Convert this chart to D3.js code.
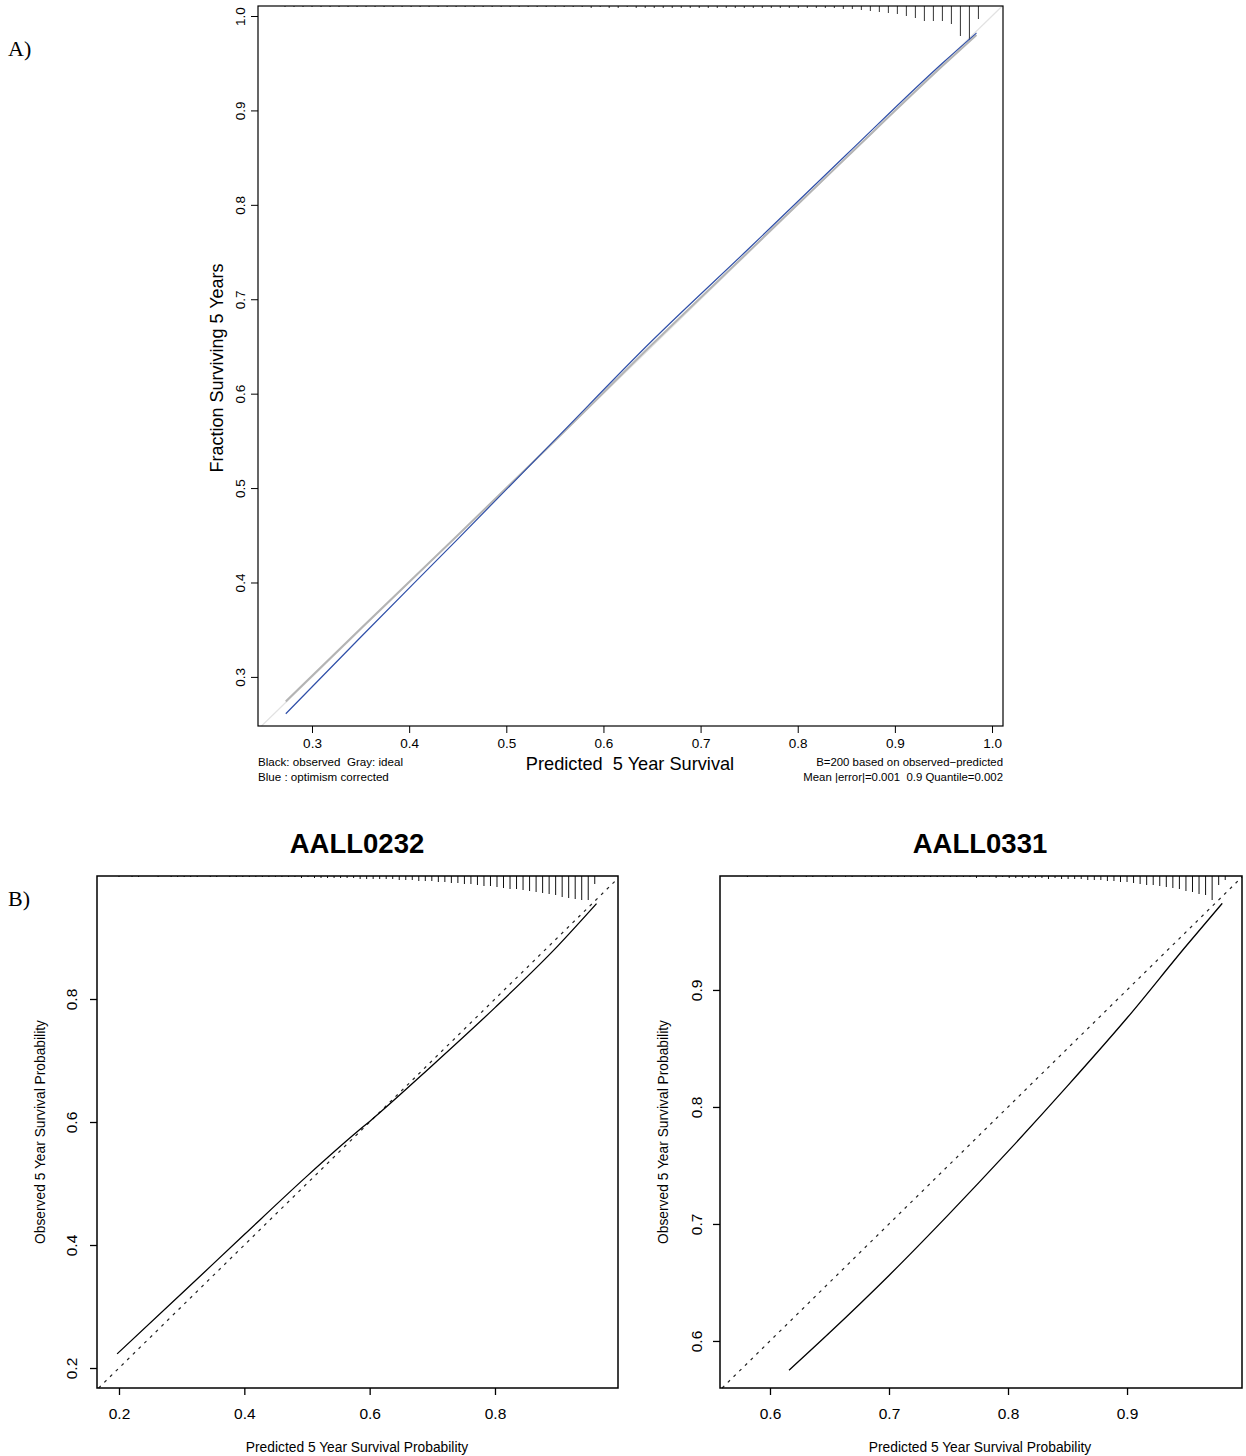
<!DOCTYPE html>
<html>
<head>
<meta charset="utf-8">
<script src="https://cdn.jsdelivr.net/npm/d3@7"></script>
<style>
  body { margin: 0; background: #fff; }
  text { font-family: "Liberation Sans", Arial, Helvetica, sans-serif; fill: #000; }
  .panel-tag { font-family: "Liberation Serif", "Times New Roman", serif; }
</style>
</head>
<body>
<svg id="fig" width="1246" height="1456"></svg>
<script>
// ---------- Panel A: bootstrap calibration of the 5-year survival model ----------
const calAPredicted   = [0.273, 0.35, 0.45, 0.55, 0.65, 0.75, 0.85, 0.95, 0.984];
const calAObserved    = [0.274, 0.351, 0.450, 0.550, 0.652, 0.751, 0.850, 0.948, 0.980];
const calACorrected   = [0.261, 0.342, 0.446, 0.551, 0.656, 0.754, 0.853, 0.951, 0.982];
const calATicksX      = [0.3, 0.4, 0.5, 0.6, 0.7, 0.8, 0.9, 1.0];
const calATicksY      = [0.3, 0.4, 0.5, 0.6, 0.7, 0.8, 0.9, 1.0];
// spike histogram of predicted risk (bin start / width, counts per bin)
const spikeAStart = 0.2722, spikeAWidth = 0.00927;
const spikeACounts = [
  1,1,1,1,1,1,1,1,1,1, 1,1,1,1,1,1,1,1,1,1, 1,1,1,1,1,1,1,1,1,1,
  1,1,1,1,2,1,2,2,1,2, 2,2,2,2,2,2,2,2,2,2, 2,2,2,2,2,2,
  2,2,2,2,2,2,3,3,4,5,6,7,8,10,12,15,15,15,18,30,34,13
];
const legendALeft  = ["Black: observed  Gray: ideal", "Blue : optimism corrected"];
const legendARight = ["B=200 based on observed\u2212predicted", "Mean |error|=0.001  0.9 Quantile=0.002"];

// ---------- Panel B: validation cohorts ----------
const cohortB1Title = "AALL0232";
const calB1Predicted = [0.197, 0.3, 0.4, 0.5, 0.58, 0.6, 0.7, 0.8, 0.9, 0.962];
const calB1Observed  = [0.223, 0.321, 0.417, 0.512, 0.584, 0.601, 0.692, 0.786, 0.886, 0.955];
const calB1Ticks     = [0.2, 0.4, 0.6, 0.8];
const spikeB1Start = 0.2, spikeB1Width = 0.0104;
const spikeB1Counts = [
  1,0,1,1,0,0,1,0,1,1, 1,1,1,0,1,1,0,1,1,1,
  1,1,1,1,1,1,1,1,2,1, 2,2,2,2,2,2,2,3,3,3,
  3,3,3,4,4,4,5,5,5,6, 6,7,7,8,8,9,10,10,11,12,
  13,13,14,15,16,17,18,19,21,22, 23,24,24,8
];

const cohortB2Title = "AALL0331";
const calB2Predicted = [0.616, 0.65, 0.7, 0.75, 0.8, 0.85, 0.9, 0.95, 0.98];
const calB2Observed  = [0.575, 0.607, 0.656, 0.708, 0.762, 0.818, 0.876, 0.938, 0.974];
const calB2TicksX    = [0.6, 0.7, 0.8, 0.9];
const calB2TicksY    = [0.6, 0.7, 0.8, 0.9];
const spikeB2Start = 0.581, spikeB2Width = 0.0055;
const spikeB2Counts = [
  1,0,0,1,0,1,0,1,0,1, 1,0,1,1,0,1,1,0,1,1,
  1,1,1,1,1,1,1,1,1,1, 1,1,1,1,1,2,1,1,2,1,
  2,2,2,2,2,2,3,2,3,3, 3,3,4,4,4,5,5,6,6,7,
  8,9,9,10,11,12,13,15,16,18,19,24,9,4
];

const svg = d3.select("#fig");
svg.append("rect").attr("width", 1246).attr("height", 1456).attr("fill", "#fff");

const fmt = d3.format(".1f");
const FONT = "'Liberation Sans', Arial, Helvetica, sans-serif";

// Draw one calibration panel frame with axes; returns scales and group
function frame(opt) {
  const x = d3.scaleLinear().domain(opt.xDomain).range([opt.left, opt.right]);
  const y = d3.scaleLinear().domain(opt.yDomain).range([opt.bottom, opt.top]);
  const g = svg.append("g");

  const ax = g.append("g")
    .attr("transform", `translate(0,${opt.bottom})`)
    .call(d3.axisBottom(x).tickValues(opt.ticksX).tickFormat(fmt).tickSize(7).tickSizeOuter(0));
  ax.select(".domain").remove();
  ax.selectAll(".tick line").attr("stroke", "#000").attr("stroke-width", opt.tickW);
  ax.selectAll(".tick text")
    .attr("y", opt.xLabelOffset).attr("dy", 0)
    .style("font-size", opt.tickFont + "px")
    .style("font-family", FONT)
    .attr("fill", "#000");

  const ay = g.append("g")
    .attr("transform", `translate(${opt.left},0)`)
    .call(d3.axisLeft(y).tickValues(opt.ticksY).tickFormat(fmt).tickSize(7).tickSizeOuter(0));
  ay.select(".domain").remove();
  ay.selectAll(".tick line").attr("stroke", "#000").attr("stroke-width", opt.tickW);
  ay.selectAll(".tick text")
    .attr("x", 0).attr("dy", 0)
    .attr("text-anchor", "middle")
    .attr("transform", `translate(${-opt.yLabelOffset},0) rotate(-90)`)
    .style("font-size", opt.tickFont + "px")
    .style("font-family", FONT)
    .attr("fill", "#000");

  return { x, y, g };
}

function spikes(g, x, topY, start, width, counts, maxLen, color) {
  const len = d3.scaleLinear().domain([0, d3.max(counts)]).range([0, maxLen]);
  g.append("g").selectAll("line")
    .data(counts.map((c, i) => ({ v: start + i * width, c })).filter(d => d.c > 0))
    .join("line")
    .attr("x1", d => x(d.v)).attr("x2", d => x(d.v))
    .attr("y1", topY).attr("y2", d => topY + len(d.c))
    .attr("stroke", color).attr("stroke-width", 1);
}

function box(g, opt, w) {
  g.append("rect")
    .attr("x", opt.left).attr("y", opt.top)
    .attr("width", opt.right - opt.left).attr("height", opt.bottom - opt.top)
    .attr("fill", "none").attr("stroke", "#000").attr("stroke-width", w);
}

// ================= Panel A =================
const optA = {
  left: 258, right: 1003, top: 6, bottom: 726,
  xDomain: [0.2444, 1.0113], yDomain: [0.248, 1.0106],
  ticksX: calATicksX, ticksY: calATicksY,
  tickFont: 13.5, xLabelOffset: 22, yLabelOffset: 13, tickW: 1
};
const A = frame(optA);
const lineA = d3.line().x(d => A.x(d[0])).y(d => A.y(d[1])).curve(d3.curveMonotoneX);

// ideal reference line across the full plotting region
A.g.append("line")
  .attr("x1", A.x(0.2480)).attr("y1", A.y(0.2480))
  .attr("x2", A.x(1.0106)).attr("y2", A.y(1.0106))
  .attr("stroke", "#e2e2e2").attr("stroke-width", 1.2);

spikes(A.g, A.x, optA.top, spikeAStart, spikeAWidth, spikeACounts, 34, "#333");

A.g.append("path")
  .datum(calAPredicted.map((p, i) => [p, calAObserved[i]]))
  .attr("d", lineA).attr("fill", "none")
  .attr("stroke", "#b4b4b4").attr("stroke-width", 2);
A.g.append("path")
  .datum(calAPredicted.map((p, i) => [p, calACorrected[i]]))
  .attr("d", lineA).attr("fill", "none")
  .attr("stroke", "#2f4fa8").attr("stroke-width", 1.2);

box(A.g, optA, 1.2);

A.g.append("text")
  .attr("transform", `translate(223,368) rotate(-90)`)
  .attr("text-anchor", "middle").style("font-size", "18px")
  .text("Fraction Surviving 5 Years");
A.g.append("text")
  .attr("x", 630).attr("y", 770).attr("text-anchor", "middle")
  .style("font-size", "18.2px").attr("xml:space", "preserve")
  .text("Predicted  5 Year Survival");
legendALeft.forEach((t, i) => {
  A.g.append("text").attr("x", 258).attr("y", 766 + i * 15)
    .style("font-size", "11.6px").attr("xml:space", "preserve").text(t);
});
legendARight.forEach((t, i) => {
  A.g.append("text").attr("x", 1003).attr("y", 766 + i * 15)
    .attr("text-anchor", "end")
    .style("font-size", "11.4px").attr("xml:space", "preserve").text(t);
});

svg.append("text").attr("class", "panel-tag")
  .attr("x", 8).attr("y", 56).style("font-size", "22px").text("A)");
svg.append("text").attr("class", "panel-tag")
  .attr("x", 8).attr("y", 906).style("font-size", "22px").text("B)");

// ================= Panel B =================
function cohortPanel(opt, pred, obs, counts, sStart, sWidth, title, titleX) {
  const P = frame(opt);
  const lo = Math.max(opt.xDomain[0], opt.yDomain[0]);
  const hi = Math.min(opt.xDomain[1], opt.yDomain[1]);
  P.g.append("line")
    .attr("x1", P.x(lo)).attr("y1", P.y(lo))
    .attr("x2", P.x(hi)).attr("y2", P.y(hi))
    .attr("stroke", "#222").attr("stroke-width", 1.2)
    .attr("stroke-dasharray", "3,5");
  spikes(P.g, P.x, opt.top, sStart, sWidth, counts, 24, "#111");
  P.g.append("path")
    .datum(pred.map((p, i) => [p, obs[i]]))
    .attr("d", d3.line().x(d => P.x(d[0])).y(d => P.y(d[1])).curve(d3.curveMonotoneX))
    .attr("fill", "none").attr("stroke", "#000").attr("stroke-width", 1.3);
  box(P.g, opt, 1.5);

  P.g.append("text").attr("x", titleX).attr("y", 853)
    .attr("text-anchor", "middle").style("font-size", "27.5px").style("font-weight", "bold")
    .text(title);
  P.g.append("text").attr("x", titleX).attr("y", 1452)
    .attr("text-anchor", "middle").style("font-size", "13.8px")
    .text("Predicted 5 Year Survival Probability");
  P.g.append("text")
    .attr("transform", `translate(${opt.left - 52},${(opt.top + opt.bottom) / 2}) rotate(-90)`)
    .attr("text-anchor", "middle").style("font-size", "13.8px")
    .text("Observed 5 Year Survival Probability");
}

cohortPanel({
  left: 97, right: 618, top: 876, bottom: 1388,
  xDomain: [0.1649, 0.9963], yDomain: [0.1675, 1.0],
  ticksX: calB1Ticks, ticksY: calB1Ticks,
  tickFont: 15.5, xLabelOffset: 31, yLabelOffset: 20, tickW: 1.3
}, calB1Predicted, calB1Observed, spikeB1Counts, spikeB1Start, spikeB1Width, cohortB1Title, 357);

cohortPanel({
  left: 720, right: 1242, top: 876, bottom: 1388,
  xDomain: [0.558, 0.9966], yDomain: [0.5598, 0.9974],
  ticksX: calB2TicksX, ticksY: calB2TicksY,
  tickFont: 15.5, xLabelOffset: 31, yLabelOffset: 18, tickW: 1.3
}, calB2Predicted, calB2Observed, spikeB2Counts, spikeB2Start, spikeB2Width, cohortB2Title, 980);
</script>
</body>
</html>
